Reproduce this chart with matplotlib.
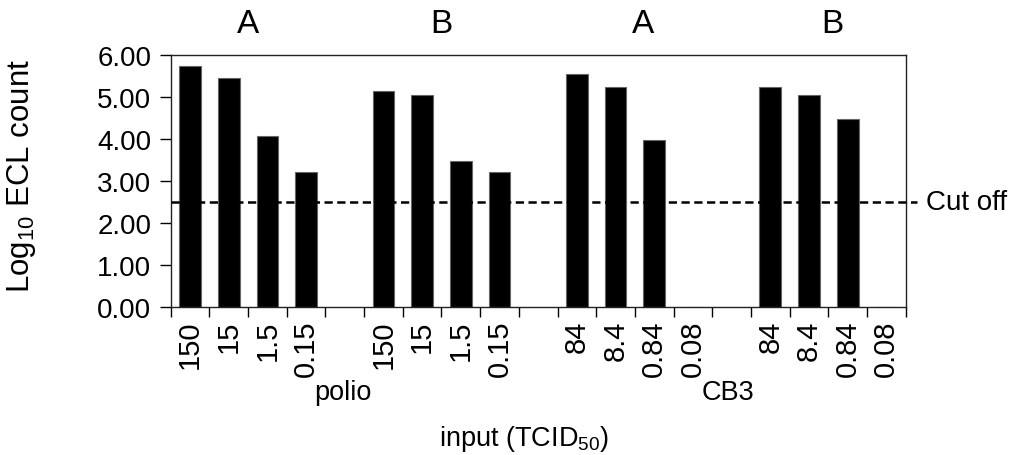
import matplotlib
matplotlib.use("Agg")
import matplotlib.pyplot as plt
import matplotlib.transforms as mtransforms
import numpy as np

plt.rcParams['font.family'] = ['Liberation Sans', 'DejaVu Sans']
plt.rcParams['mathtext.default'] = 'regular'

# ---- data ----
group_names = ["A", "B", "A", "B"]
virus_names = ["polio", "CB3"]
dose_labels = [
    ["150", "15", "1.5", "0.15"],
    ["150", "15", "1.5", "0.15"],
    ["84", "8.4", "0.84", "0.08"],
    ["84", "8.4", "0.84", "0.08"],
]
values = [
    [5.74, 5.44, 4.06, 3.20],
    [5.14, 5.05, 3.48, 3.20],
    [5.54, 5.24, 3.97, 0.00],
    [5.24, 5.05, 4.46, 0.00],
]
cutoff = 2.5
y_ticks = [0, 1, 2, 3, 4, 5, 6]

# ---- layout ----
W, H = 1013, 456
fig = plt.figure(figsize=(W / 100, H / 100), dpi=100)
ax = fig.add_axes([170.7 / W, 1 - 307.7 / H, 735 / W, 252 / H])

slot = 5  # 4 bars + 1 gap per group
positions, heights, labels = [], [], []
for g, (vals, labs) in enumerate(zip(values, dose_labels)):
    for i, (v, l) in enumerate(zip(vals, labs)):
        positions.append(g * slot + i)
        heights.append(v)
        labels.append(l)

ax.bar(positions, heights, width=0.56, color="black", edgecolor="#666666",
       linewidth=0.8, zorder=2)

n_slots = len(values) * slot - 1
ax.set_xlim(-0.5, n_slots - 0.5)
ax.set_ylim(0, 6)

# tick labels at bar centres, tick marks at slot boundaries
ax.set_xticks(positions)
ax.set_xticklabels(labels, rotation=90, fontsize=21, va="top")
ax.tick_params(axis="x", which="major", length=0, pad=9)
ax.set_xticks(np.arange(-0.5, n_slots, 1.0), minor=True)
ax.tick_params(axis="x", which="minor", length=7, width=1, direction="out")

ax.set_yticks(y_ticks)
ax.set_yticklabels([f"{t:.2f}" for t in y_ticks], fontsize=20)
ax.tick_params(axis="y", length=8, width=1, direction="out", pad=6)

for s in ax.spines.values():
    s.set_linewidth(1.0)
    s.set_color("#222222")

# cut-off line
ax.axhline(cutoff, xmin=0, xmax=1.015, color="black", lw=1.8,
           dashes=(3.3, 1.8), clip_on=False, zorder=3)
ax.text(1.028, cutoff, "Cut off", transform=mtransforms.blended_transform_factory(ax.transAxes, ax.transData),
        fontsize=20, va="center", ha="left")

# group labels on top
trans = mtransforms.blended_transform_factory(ax.transData, ax.transAxes)
group_x = [1.5, 6.5, 11.7, 16.6]
for gx, name in zip(group_x, group_names):
    ax.text(gx, (307.7 - 33) / 252, name, transform=trans, fontsize=24,
            ha="center", va="baseline")

# virus labels
virus_x = [3.95, 13.9]
for vx, name in zip(virus_x, virus_names):
    ax.text(vx, (307.7 - 400) / 252, name, transform=trans, fontsize=19.5,
            ha="center", va="baseline")

ax.text(8.63, (307.7 - 446) / 252, "input (TCID$_{50}$)", transform=trans,
        fontsize=19.5, ha="center", va="baseline")

fig.text(22 / W, 1 - 176 / H, "Log$_{10}$ ECL count", rotation=90,
         fontsize=22.5, ha="center", va="center")

fig.savefig("out.png", dpi=100)
